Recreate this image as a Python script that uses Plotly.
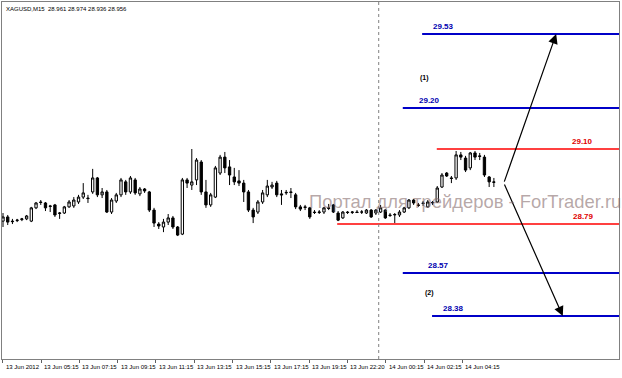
import plotly.graph_objects as go

# ---------------- data ----------------
title_text = "XAGUSD,M15  28.961 28.974 28.936 28.956"

open_ = [28.767, 28.784, 28.767, 28.769, 28.773, 28.776, 28.767, 28.821, 28.845, 28.841,
         28.829, 28.833, 28.798, 28.800, 28.825, 28.829, 28.845, 28.865, 28.861, 28.886,
         28.943, 28.874, 28.886, 28.804, 28.849, 28.874, 28.927, 28.886, 28.935, 28.878,
         28.898, 28.886, 28.812, 28.755, 28.743, 28.763, 28.780, 28.743, 28.714, 28.935,
         28.914, 28.935, 29.008, 28.886, 28.833, 28.865, 28.963, 29.028, 28.988, 28.947,
         28.931, 28.922, 28.886, 28.812, 28.804, 28.845, 28.874, 28.906, 28.922, 28.878,
         28.882, 28.886, 28.874, 28.825, 28.825, 28.821, 28.804, 28.802, 28.804, 28.821,
         28.833, 28.800, 28.780, 28.804, 28.802, 28.804, 28.804, 28.800, 28.812, 28.800,
         28.804, 28.812, 28.792, 28.792, 28.792, 28.804, 28.821, 28.853, 28.833, 28.841,
         28.825, 28.841, 28.845, 28.906, 28.963, 28.943, 28.943, 29.037, 29.024, 28.984,
         29.045, 29.033, 29.028, 28.947, 28.927]
high = [28.800, 28.792, 28.776, 28.776, 28.780, 28.792, 28.825, 28.845, 28.853, 28.845,
        28.833, 28.837, 28.804, 28.829, 28.853, 28.865, 28.874, 28.922, 28.874, 28.980,
        28.947, 28.902, 28.894, 28.861, 28.882, 28.943, 28.935, 28.951, 28.943, 28.906,
        28.902, 28.890, 28.821, 28.763, 28.776, 28.796, 28.788, 28.747, 28.943, 28.943,
        29.061, 29.024, 29.016, 28.935, 28.882, 28.992, 29.037, 29.049, 29.016, 28.984,
        28.975, 28.935, 28.894, 28.821, 28.853, 28.894, 28.935, 28.927, 28.931, 28.894,
        28.894, 28.902, 28.882, 28.833, 28.833, 28.825, 28.812, 28.812, 28.825, 28.837,
        28.837, 28.808, 28.808, 28.808, 28.808, 28.812, 28.812, 28.816, 28.816, 28.816,
        28.833, 28.816, 28.800, 28.800, 28.812, 28.825, 28.857, 28.857, 28.841, 28.849,
        28.853, 28.849, 28.910, 28.963, 28.967, 28.951, 29.053, 29.049, 29.033, 29.049,
        29.053, 29.045, 29.037, 28.951, 28.943]
low = [28.743, 28.751, 28.755, 28.763, 28.767, 28.771, 28.763, 28.816, 28.833, 28.808,
       28.804, 28.784, 28.776, 28.796, 28.821, 28.821, 28.837, 28.857, 28.841, 28.878,
       28.865, 28.861, 28.800, 28.796, 28.841, 28.865, 28.874, 28.878, 28.874, 28.869,
       28.882, 28.804, 28.743, 28.735, 28.722, 28.751, 28.735, 28.706, 28.710, 28.902,
       28.894, 28.914, 28.874, 28.821, 28.825, 28.861, 28.955, 28.963, 28.914, 28.914,
       28.910, 28.845, 28.804, 28.759, 28.796, 28.837, 28.865, 28.898, 28.865, 28.833,
       28.874, 28.861, 28.816, 28.808, 28.812, 28.776, 28.796, 28.796, 28.796, 28.812,
       28.800, 28.767, 28.776, 28.796, 28.796, 28.800, 28.796, 28.796, 28.780, 28.792,
       28.800, 28.776, 28.784, 28.759, 28.784, 28.800, 28.816, 28.833, 28.825, 28.829,
       28.821, 28.833, 28.841, 28.902, 28.947, 28.922, 28.935, 29.016, 28.967, 28.975,
       29.016, 29.016, 28.947, 28.906, 28.906]
close = [28.784, 28.763, 28.765, 28.771, 28.776, 28.788, 28.821, 28.841, 28.843, 28.821,
         28.827, 28.792, 28.800, 28.825, 28.845, 28.853, 28.865, 28.882, 28.859, 28.943,
         28.874, 28.886, 28.804, 28.853, 28.874, 28.935, 28.886, 28.943, 28.882, 28.898,
         28.890, 28.812, 28.759, 28.747, 28.763, 28.780, 28.743, 28.710, 28.935, 28.922,
         28.927, 29.016, 28.886, 28.833, 28.874, 28.984, 29.028, 28.984, 28.955, 28.927,
         28.922, 28.886, 28.812, 28.784, 28.845, 28.882, 28.910, 28.914, 28.874, 28.874,
         28.884, 28.884, 28.825, 28.816, 28.823, 28.784, 28.802, 28.804, 28.821, 28.819,
         28.804, 28.771, 28.804, 28.802, 28.804, 28.802, 28.804, 28.812, 28.784, 28.812,
         28.821, 28.780, 28.790, 28.794, 28.804, 28.821, 28.853, 28.841, 28.831, 28.839,
         28.845, 28.843, 28.902, 28.955, 28.951, 28.941, 29.037, 29.028, 28.975, 29.045,
         29.028, 29.031, 28.955, 28.927, 28.925]

time_labels = ["13 Jun 2012", "13 Jun 05:15", "13 Jun 07:15", "13 Jun 09:15", "13 Jun 11:15",
               "13 Jun 13:15", "13 Jun 15:15", "13 Jun 17:15", "13 Jun 19:15", "13 Jun 22:20",
               "14 Jun 00:15", "14 Jun 02:15", "14 Jun 04:15"]

# horizontal levels: price position, label text, colour group, start bar, label bar
level_prices = [29.530, 29.228, 29.061, 28.755, 28.555, 28.380]
level_labels = ["29.53", "29.20", "29.10", "28.79", "28.57", "28.38"]
level_kind = ["blue", "blue", "red", "red", "blue", "blue"]
level_start = [88.8, 84.7, 91.9, 70.8, 84.7, 90.9]
level_label_bar = [90.7, 87.7, 120.1, 120.3, 89.6, 92.8]

# scenario marks
scenario_labels = ["(1)", "(2)"]
scenario_bar = [87.9, 89.0]
scenario_price = [29.351, 28.474]

pivot_bar, pivot_price = 106.1, 28.922
target_bars = [117.2, 118.6]
target_prices = [29.53, 28.38]

day_separator_bar = 79.6
watermark = "Портал для трейдеров - ForTrader.ru"

# ---------------- layout geometry ----------------
W, H = 622, 378
ml, mr, mt, mb = 2, 3, 2, 19
bar_px = 4.72          # pixel spacing between bars
x0_px = 3.0            # pixel of bar 0
plot_w = W - ml - mr
x_range = [(0 - (x0_px - ml)) / bar_px, (plot_w - (x0_px - ml)) / bar_px]
y_range = [28.2047, 29.6605]

tick_idx = [((ml + 0.7 + 38.3 * k) - x0_px) / bar_px for k in range(len(time_labels))]

bars = list(range(len(open_)))

fig = go.Figure()
fig.add_trace(go.Candlestick(
    x=bars, open=open_, high=high, low=low, close=close,
    increasing=dict(line=dict(color="black", width=1), fillcolor="white"),
    decreasing=dict(line=dict(color="black", width=1), fillcolor="black"),
    whiskerwidth=0, showlegend=False, hoverinfo="skip"))

shapes = []
annotations = []

colors = {"blue": ("#0000c8", "#0000b0", 2), "red": ("#ff0000", "#e00000", 1.5)}
for p, lab, kind, xs, xl in zip(level_prices, level_labels, level_kind, level_start, level_label_bar):
    lc, tc, lw = colors[kind]
    shapes.append(dict(type="line", xref="x", yref="y", x0=xs, x1=x_range[1], y0=p, y1=p,
                       line=dict(color=lc, width=lw)))
    annotations.append(dict(x=xl, y=p, xref="x", yref="y", text="<b>%s</b>" % lab,
                            showarrow=False, xanchor="left", yanchor="bottom", yshift=1,
                            font=dict(family="Liberation Sans, Arial", size=8, color=tc)))

for lab, b, p in zip(scenario_labels, scenario_bar, scenario_price):
    annotations.append(dict(x=b, y=p, xref="x", yref="y", text="<b>%s</b>" % lab,
                            showarrow=False, xanchor="left", yanchor="middle",
                            font=dict(family="Liberation Sans, Arial", size=7, color="black")))

for tb, tp in zip(target_bars, target_prices):
    annotations.append(dict(x=tb, y=tp, xref="x", yref="y", ax=pivot_bar, ay=pivot_price,
                            axref="x", ayref="y", text="", showarrow=True,
                            arrowhead=2, arrowsize=1.6, arrowwidth=1.2, arrowcolor="black",
                            standoff=0, startstandoff=0))

shapes.append(dict(type="line", xref="x", yref="paper", x0=day_separator_bar, x1=day_separator_bar,
                   y0=0, y1=1, line=dict(color="#808080", width=1, dash="dot")))

annotations.append(dict(x=(307 - ml) / plot_w, y=(H - mb - 201) / (H - mt - mb), xref="paper", yref="paper",
                        text=watermark, showarrow=False, xanchor="left", yanchor="middle",
                        font=dict(family="Liberation Sans, Arial", size=18.4,
                                  color="rgba(135,110,110,0.6)")))

annotations.append(dict(x=0, y=1, xref="paper", yref="paper", text=title_text, showarrow=False,
                        xanchor="left", yanchor="top", xshift=2, yshift=-2,
                        font=dict(family="Liberation Sans, Arial", size=6, color="black")))

for t, lab in zip(tick_idx, time_labels):
    annotations.append(dict(x=t, y=0, xref="x", yref="paper", text=lab, showarrow=False,
                            xanchor="left", yanchor="middle", xshift=1, yshift=-8,
                            font=dict(family="Liberation Sans, Arial", size=6, color="black")))

fig.update_layout(
    width=W, height=H, margin=dict(l=ml, r=mr, t=mt, b=mb),
    paper_bgcolor="white", plot_bgcolor="white",
    shapes=shapes, annotations=annotations, showlegend=False,
    xaxis=dict(range=x_range, rangeslider=dict(visible=False), showgrid=False, zeroline=False,
               showline=True, mirror=True, linecolor="#808080", linewidth=1,
               tickvals=tick_idx, ticks="outside", ticklen=3, tickcolor="#606060",
               showticklabels=False),
    yaxis=dict(range=y_range, showgrid=False, zeroline=False, showline=True, mirror=True,
               linecolor="#808080", linewidth=1, showticklabels=False, ticks=""),
)

fig.write_html("out.html")
